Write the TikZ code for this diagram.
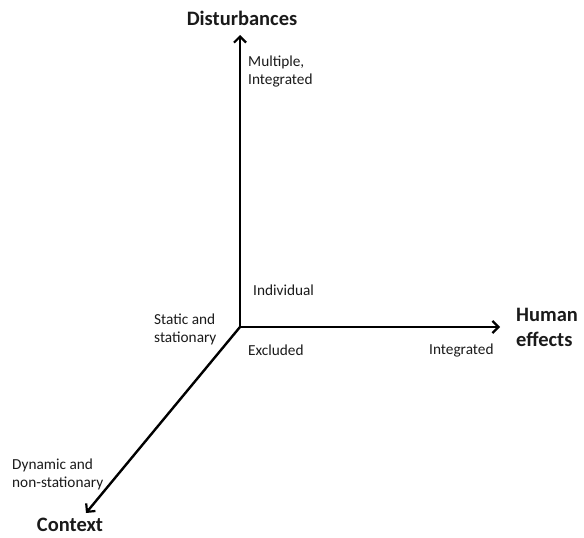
\documentclass[tikz,border=0pt]{standalone}
\usepackage{fontspec}
\setmainfont{Carlito}
\usetikzlibrary{arrows.meta}
\definecolor{inkdark}{HTML}{1A1A1A}
\tikzset{
  axis/.style={line width=2.4pt, draw=black, -{Straight Barb[length=6pt, width=12pt, line width=2.2pt]}},
  tick/.style={font=\fontsize{15.3}{18}\selectfont, text=inkdark, inner sep=0pt, align=left},
  title/.style={font=\fontsize{20.5}{25}\selectfont\bfseries, text=inkdark, inner sep=0pt, align=left},
}
\begin{document}
\begin{tikzpicture}[x=1pt, y=-1pt]
  \useasboundingbox (0,0) rectangle (584,538);
  % axis ends
  \coordinate (O) at (240,327);
  \coordinate (up) at (240,35);
  \coordinate (right) at (500,327);
  \coordinate (down) at (86,513);
  % the three axes
  \draw[axis] (O) -- (up);
  \draw[axis] (O) -- (right);
  \draw[axis] (O) -- (down);
  % axis titles
  \node[title, anchor=center] (dist) at (242,18) {Disturbances};
  \node[title, anchor=west] (human) at (516,327.5) {Human\\effects};
  \node[title, anchor=center] (ctx) at (70,525) {Context};
  % value labels
  \node[tick, anchor=west] (multi) at (248,72) {Multiple,\\Integrated};
  \node[tick, anchor=west] (indiv) at (253,290) {Individual};
  \node[tick, anchor=west] (static) at (154,329) {Static and\\stationary};
  \node[tick, anchor=west] (excl) at (248,350) {Excluded};
  \node[tick, anchor=west] (integ) at (429,350) {Integrated};
  \node[tick, anchor=west] (dyn) at (12,474) {Dynamic and\\non-stationary};
\end{tikzpicture}
\end{document}
